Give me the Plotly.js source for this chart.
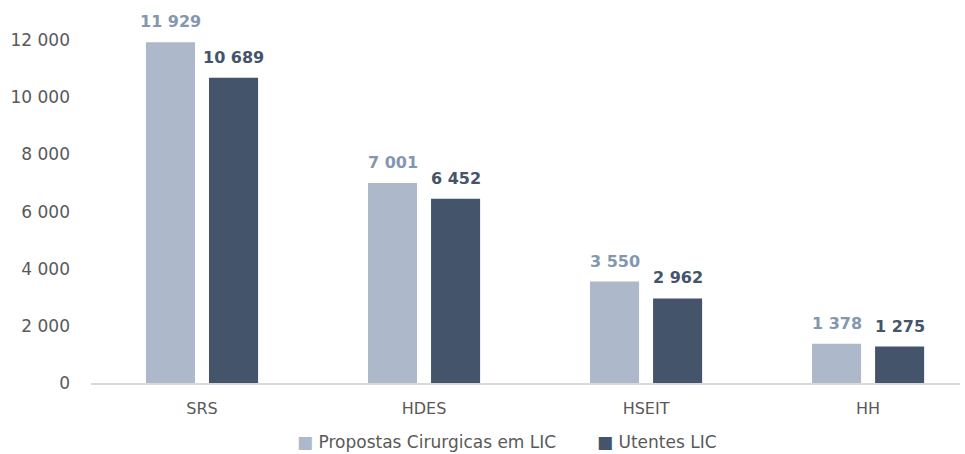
<!DOCTYPE html>
<html>
<head>
<meta charset="utf-8">
<script src="https://cdn.plot.ly/plotly-3.0.1.min.js"></script>
<style>html,body{margin:0;padding:0;background:#fff;}#chart{width:965px;height:454px;}</style>
</head>
<body>
<div id="chart"></div>
<script>
var categories = ["SRS", "HDES", "HSEIT", "HH"];
var seriesNames = ["Propostas Cirurgicas em LIC", "Utentes LIC"];
var propostas = [11929, 7001, 3550, 1378];
var utentes = [10689, 6452, 2962, 1275];
var yTicks = [0, 2000, 4000, 6000, 8000, 10000, 12000];

var lightColor = "#adb9ca";
var darkColor = "#44546a";
var lightLabel = "#8497b0";
var textColor = "#595959";

var font = "'DejaVu Sans', sans-serif";

var traces = [
  {type: "bar", name: seriesNames[0], x: categories, y: propostas, marker: {color: lightColor}, hoverinfo: "none"},
  {type: "bar", name: seriesNames[1], x: categories, y: utentes, marker: {color: darkColor}, hoverinfo: "none"}
];

function fmt(v) {
  return String(v).replace(/\B(?=(\d{3})+(?!\d))/g, " ");
}

var annotations = [];
categories.forEach(function (c, i) {
  annotations.push({x: c, y: propostas[i], xref: "x", yref: "y", text: "<b>" + fmt(propostas[i]) + "</b>",
    showarrow: false, xshift: -31.5, yanchor: "bottom", yshift: 9, font: {family: font, size: 16, color: lightLabel}});
  annotations.push({x: c, y: utentes[i], xref: "x", yref: "y", text: "<b>" + fmt(utentes[i]) + "</b>",
    showarrow: false, xshift: 31.5, yanchor: "bottom", yshift: 9, font: {family: font, size: 16, color: darkColor}});
});

// legend drawn as text items below the plot
var legendColors = [lightColor, darkColor];
var legendX = [0.2348, 0.58];
seriesNames.forEach(function (n, i) {
  annotations.push({xref: "paper", yref: "paper", x: legendX[i], y: -0.157, xanchor: "left", yanchor: "middle",
    showarrow: false, text: "<span style='color:" + legendColors[i] + "'>■</span> " + n,
    font: {family: font, size: 17, color: textColor}});
});

var layout = {
  width: 965, height: 454,
  margin: {l: 91, r: 5, t: 6, b: 71, autoexpand: false},
  paper_bgcolor: "#ffffff", plot_bgcolor: "#ffffff",
  separators: ", ",
  barmode: "group",
  bargap: 0.432,
  bargroupgap: 0.222,
  font: {family: font, color: textColor, size: 16},
  showlegend: false,
  xaxis: {type: "category", range: [-0.5, 3.414], showgrid: false, zeroline: false,
    showline: true, linecolor: "#d9d9d9", linewidth: 2, ticks: "", ticklabelstandoff: 10,
    tickfont: {family: font, size: 16, color: textColor}, fixedrange: true},
  yaxis: {range: [0, 13200], tickvals: yTicks, tickformat: ",d", showgrid: false, zeroline: false,
    showline: false, ticks: "", ticklabelstandoff: 20,
    tickfont: {family: font, size: 17, color: textColor}, fixedrange: true},
  annotations: annotations
};

Plotly.newPlot("chart", traces, layout, {displayModeBar: false, staticPlot: true});
</script>
</body>
</html>
